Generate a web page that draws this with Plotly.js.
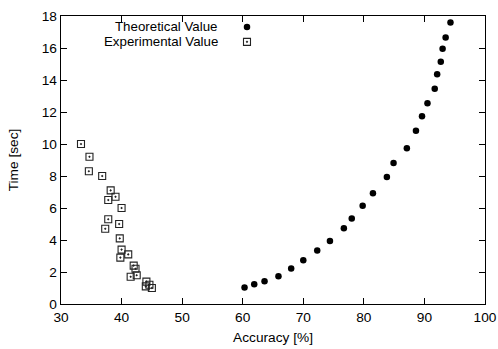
<!DOCTYPE html>
<html><head><meta charset="utf-8">
<script src="https://cdn.plot.ly/plotly-3.0.1.min.js"></script>
<style>html,body{margin:0;padding:0;background:#fff}#chart{width:498px;height:349px}</style>
</head><body><div id="chart"></div>
<script>
const theoAccuracy = [60.3,61.9,63.6,65.9,68.0,70.0,72.3,74.4,76.7,78.0,79.8,81.5,83.8,84.9,87.1,88.6,89.6,90.5,91.7,92.1,92.7,93.0,93.5,94.3];
const theoTime     = [1.03,1.24,1.42,1.73,2.22,2.74,3.34,3.94,4.74,5.34,6.14,6.92,7.93,8.82,9.74,10.83,11.74,12.55,13.45,14.36,15.14,15.95,16.65,17.6];
const expAccuracy  = [33.3,34.7,34.6,36.8,38.2,39.0,37.8,40.0,37.8,39.6,37.3,39.7,40.0,41.1,39.8,42.0,42.3,42.5,41.5,44.1,44.6,44.0,45.0];
const expTime      = [10.0,9.2,8.3,8.0,7.1,6.7,6.5,6.0,5.3,5.0,4.7,4.1,3.4,3.1,2.9,2.4,2.2,1.8,1.7,1.4,1.2,1.1,1.0];
const seriesNames  = ["Theoretical Value","Experimental Value"];
const xTicks = [30,40,50,60,70,80,90,100];
const yTicks = [0,2,4,6,8,10,12,14,16,18];

const fam = "Liberation Sans, Arial, sans-serif";
const font = {family:fam, size:13.7, color:"#000"};
const keyFont = {family:fam, size:13.3, color:"#000"};
const legFont = {family:fam, size:13.5, color:"#000"};
const traces = [
  {x:theoAccuracy, y:theoTime, type:"scatter", mode:"markers", name:" ", legend:"legend",
   marker:{symbol:"circle", size:6.5, color:"#000"}},
  {x:expAccuracy, y:expTime, type:"scatter", mode:"markers", name:" ", legend:"legend2",
   marker:{symbol:"square-open-dot", size:7, color:"#222", line:{width:1.1, color:"#222"}}}
];
const axisBase = {showgrid:false, zeroline:false, showline:true, linecolor:"#000", linewidth:1.3,
  mirror:"allticks", ticks:"inside", ticklen:6, tickcolor:"#000", tickfont:font};
const legBase = {xanchor:"left", yanchor:"top", bgcolor:"rgba(0,0,0,0)", font:legFont, itemwidth:30};
const layout = {
  width:498, height:349,
  margin:{l:61, r:13, t:13, b:45},
  paper_bgcolor:"#fff", plot_bgcolor:"#fff",
  font:font,
  showlegend:true,
  legend:Object.assign({}, legBase, {x:0.3915, y:1.0148}),
  legend2:Object.assign({}, legBase, {x:0.3915, y:0.9632}),
  xaxis:Object.assign({}, axisBase, {range:[30,100], tickvals:xTicks, ticktext:xTicks.map(String),
    title:{text:"Accuracy [%]", font:font, standoff:8}}),
  yaxis:Object.assign({}, axisBase, {range:[0,18], tickvals:yTicks, ticktext:yTicks.map(String),
    title:{text:"Time [sec]", font:font, standoff:20}}),
  annotations:[
    {xref:"paper", yref:"paper", x:0.3726, y:0.9622, xanchor:"right", yanchor:"middle", borderpad:0,
     text:seriesNames[0], showarrow:false, font:keyFont},
    {xref:"paper", yref:"paper", x:0.3726, y:0.9107, xanchor:"right", yanchor:"middle", borderpad:0,
     text:seriesNames[1], showarrow:false, font:keyFont}
  ]
};
Plotly.newPlot("chart", traces, layout, {staticPlot:true});
</script></body></html>
